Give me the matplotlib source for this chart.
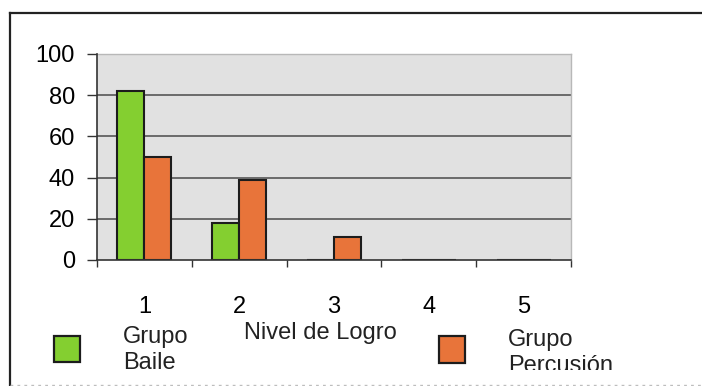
import numpy as np
import matplotlib.pyplot as plt
from matplotlib.patches import Rectangle

plt.rcParams['font.family'] = ['Liberation Sans', 'DejaVu Sans']

# Datos
niveles = [1, 2, 3, 4, 5]
grupo_baile = [82, 18, 0, 0, 0]
grupo_percusion = [50, 39, 11, 0, 0]
etiquetas = ['1', '2', '3', '4', '5']

verde = '#84cf30'
naranja = '#e8743a'
borde = '#1c1c1c'

W, H = 702, 386
fig = plt.figure(figsize=(W / 100, H / 100), dpi=100)
fig.patch.set_facecolor('white')

# Area de grafico (en pixeles)
x0, x1, y0, y1 = 97, 571, 54, 260
ax = fig.add_axes([x0 / W, 1 - y1 / H, (x1 - x0) / W, (y1 - y0) / H])
ax.set_facecolor('#e1e1e1')

x = np.array(niveles)
ancho = 0.285
ax.bar(x - ancho / 2, grupo_baile, ancho, color=verde, edgecolor=borde, linewidth=1.5, zorder=3)
ax.bar(x + ancho / 2, grupo_percusion, ancho, color=naranja, edgecolor=borde, linewidth=1.5, zorder=3)

ax.set_xlim(0.5, 5.5)
ax.set_ylim(0, 100)

# Lineas de division
for v in [20, 40, 60, 80]:
    ax.axhline(v, color='#4a4a4a', linewidth=1.1, zorder=1)

ax.set_yticks([0, 20, 40, 60, 80, 100])
ax.tick_params(axis='y', direction='out', length=7, width=1, color='#333333',
               pad=9, labelsize=17)

# Marcas entre categorias, etiquetas en el centro
ax.set_xticks(np.arange(0.5, 6.0, 1.0))
ax.set_xticklabels([])
ax.tick_params(axis='x', which='major', direction='out', length=5, width=1, color='#333333')
ax.set_xticks(x, minor=True)
ax.set_xticklabels(etiquetas, minor=True)
ax.tick_params(axis='x', which='minor', length=0, pad=26, labelsize=17)

for lado in ['left', 'bottom']:
    ax.spines[lado].set_color('#333333')
    ax.spines[lado].set_linewidth(1.2)
    ax.spines[lado].set_zorder(4)
for lado in ['top', 'right']:
    ax.spines[lado].set_color('#b8b8b8')
    ax.spines[lado].set_linewidth(1.0)

# Marco exterior
fig.add_artist(plt.Line2D([10 / W, 10 / W], [0, 1 - 13 / H], color='#222222', linewidth=1.6))
fig.add_artist(plt.Line2D([10 / W, 1], [1 - 13 / H, 1 - 13 / H], color='#222222', linewidth=1.6))

# Titulo del eje
fig.text(320 / W, 1 - 333 / H, 'Nivel de Logro', fontsize=17, ha='center', va='center',
         color='#222222')

# Leyenda
fig.add_artist(Rectangle((54 / W, 1 - 362 / H), 26 / W, 26 / H, facecolor=verde,
                         edgecolor=borde, linewidth=1.6, transform=fig.transFigure))
fig.add_artist(Rectangle((439 / W, 1 - 363 / H), 26 / W, 27 / H, facecolor=naranja,
                         edgecolor=borde, linewidth=1.6, transform=fig.transFigure))
fig.text(123 / W, 1 - 350 / H, 'Grupo\nBaile', fontsize=17, ha='left', va='center',
         linespacing=1.2, color='#222222')
fig.text(508 / W, 1 - 353 / H, 'Grupo\nPercusión', fontsize=17, ha='left', va='center',
         linespacing=1.2, color='#222222')

# El cuadro de la leyenda corta el texto por abajo
fig.add_artist(Rectangle((420 / W, 1 - 383 / H), 282 / W, 13 / H, facecolor='white',
                         edgecolor='none', transform=fig.transFigure, zorder=10))
fig.add_artist(plt.Line2D([10 / W, 1], [1 - 385 / H, 1 - 385 / H], color='#bdbdbd',
                          linewidth=1.0, linestyle=(0, (2, 3)), zorder=11))

fig.savefig('out.png', dpi=100)
